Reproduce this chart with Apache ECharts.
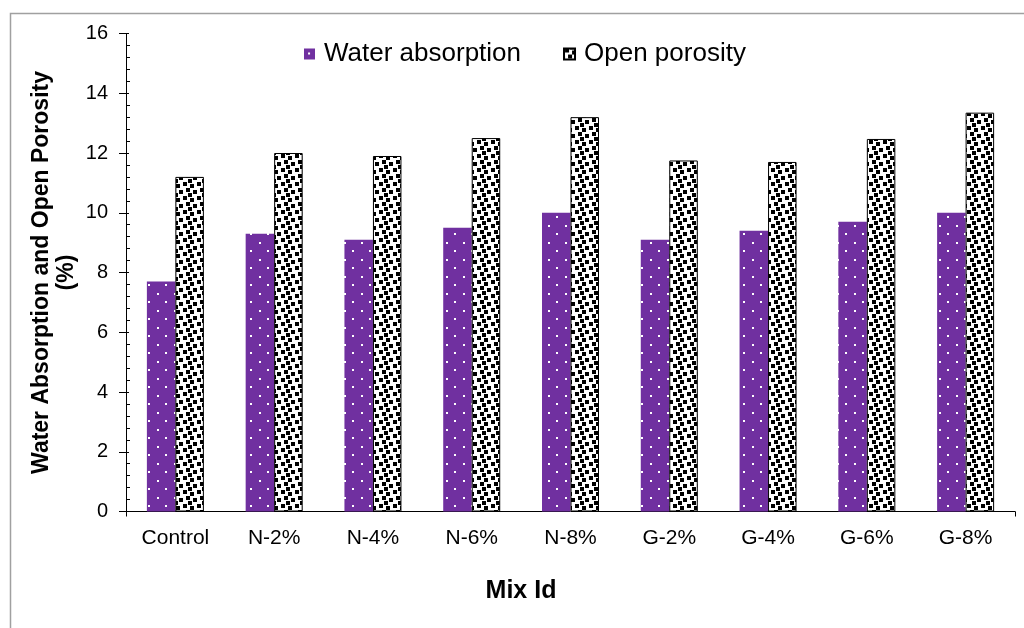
<!DOCTYPE html>
<html>
<head>
<meta charset="utf-8">
<script src="https://cdn.jsdelivr.net/npm/echarts@6/dist/echarts.min.js"></script>
<style>html,body{margin:0;padding:0;background:#fff}#c{width:1024px;height:628px}</style>
</head>
<body>
<div id="c"></div>
<script>
var categories = ['Control', 'N-2%', 'N-4%', 'N-6%', 'N-8%', 'G-2%', 'G-4%', 'G-6%', 'G-8%'];
var waterAbsorption = [7.7, 9.3, 9.1, 9.5, 10.0, 9.1, 9.4, 9.7, 10.0];
var openPorosity = [11.2, 12.0, 11.9, 12.5, 13.2, 11.75, 11.7, 12.47, 13.35];
var yTicks = [0, 2, 4, 6, 8, 10, 12, 14, 16];

function purplePattern() {
  var c = document.createElement('canvas');
  c.width = 17; c.height = 17;
  var g = c.getContext('2d');
  g.fillStyle = '#7030A0'; g.fillRect(0, 0, 17, 17);
  g.fillStyle = '#ffffff';
  g.fillRect(4, 4, 2, 2);
  g.fillRect(12, 12, 2, 2);
  return c;
}
function dotPattern() {
  var n = 14;
  var c = document.createElement('canvas');
  c.width = n; c.height = n;
  var g = c.getContext('2d');
  g.fillStyle = '#ffffff'; g.fillRect(0, 0, n, n);
  g.fillStyle = '#000000';
  var sq = [[1,0],[8,2],[4,6],[11,8],[6,11]];
  sq.forEach(function (p) {
    for (var dx = -n; dx <= n; dx += n) {
      for (var dy = -n; dy <= n; dy += n) {
        g.fillRect(p[0] + dx, p[1] + dy, 4, 4);
      }
    }
  });
  return c;
}

var FONT = 'Liberation Sans';
var chart = echarts.init(document.getElementById('c'), null, {renderer: 'canvas'});
chart.setOption({
  backgroundColor: '#fff',
  animation: false,
  textStyle: {fontFamily: FONT, color: '#000'},
  graphic: [
    {type: 'rect', shape: {x: 10.5, y: 13.5, width: 1100, height: 700}, style: {fill: 'none', stroke: '#a0a0a0', lineWidth: 1.5}, silent: true},
    {type: 'text', x: 521, y: 579, style: {text: 'Mix Id', font: 'bold 25px "Liberation Sans"', fill: '#000', textAlign: 'center'}}
  ],
  legend: {
    left: 299, top: 36,
    itemWidth: 11, itemHeight: 11, itemGap: 42,
    icon: 'rect',
    textStyle: {fontSize: 26, fontFamily: FONT, color: '#000', padding: [0, 0, 0, 4]},
    data: ['Water absorption', 'Open porosity']
  },
  grid: {left: 126, right: 9, top: 33.5, bottom: 116.5, containLabel: false},
  xAxis: [{
    type: 'category', data: categories,
    axisLine: {lineStyle: {color: '#000', width: 1}},
    axisTick: {alignWithLabel: true, length: 5, lineStyle: {color: '#000'}},
    axisLabel: {fontSize: 21, color: '#000', fontFamily: FONT, margin: 16}
  }, {
    type: 'value', min: 0, max: 9, interval: 9, position: 'bottom',
    axisLine: {show: false}, axisLabel: {show: false}, splitLine: {show: false},
    axisTick: {show: true, length: 5, lineStyle: {color: '#000'}}
  }],
  yAxis: [{
    type: 'value', min: 0, max: 16, interval: 2,
    axisLine: {show: true, lineStyle: {color: '#000'}},
    axisTick: {show: true, inside: false, length: 7, lineStyle: {color: '#000'}},
    splitLine: {show: false},
    axisLabel: {fontSize: 20, color: '#000', fontFamily: FONT, margin: 18,
      formatter: function (v) { return yTicks.indexOf(v) >= 0 ? String(v) : ''; }},
    name: 'Water Absorption and Open Porosity\n(%)',
    nameLocation: 'middle', nameGap: 47, nameRotate: 90, nameMoveOverlap: false,
    nameTextStyle: {fontSize: 23, fontWeight: 'bold', color: '#000', fontFamily: FONT, lineHeight: 25}
  }, {
    type: 'value', min: 0, max: 16, interval: 2, position: 'right', offset: -889,
    axisLine: {show: false}, axisLabel: {show: false}, splitLine: {show: false},
    axisTick: {show: true, length: 3, lineStyle: {color: '#000'}},
    minorTick: {show: true, splitNumber: 5, length: 4, lineStyle: {color: '#000'}}
  }],
  series: [{
    name: 'Water absorption', type: 'bar', data: waterAbsorption,
    barWidth: 28.5, barGap: '0%',
    itemStyle: {color: {image: purplePattern(), repeat: 'repeat'}}
  }, {
    name: 'Open porosity', type: 'bar', data: openPorosity,
    barWidth: 28.5, barGap: '0%',
    itemStyle: {color: {image: dotPattern(), repeat: 'repeat'}, borderColor: '#000', borderWidth: 1}
  }]
});
</script>
</body>
</html>
